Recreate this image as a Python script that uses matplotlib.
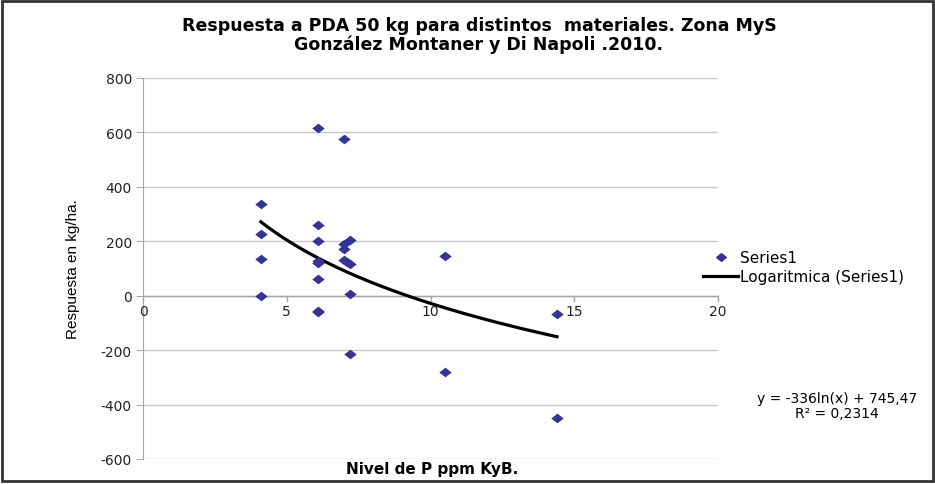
import numpy as np
import matplotlib.pyplot as plt
from matplotlib.lines import Line2D

plt.rcParams['font.family'] = ['DejaVu Sans']
plt.rcParams['axes.unicode_minus'] = False

# data
p_ppm = [4.1, 4.1, 4.1, 4.1,
         6.1, 6.1, 6.1, 6.1, 6.1, 6.1, 6.1, 6.1,
         7.0, 7.0, 7.0, 7.0, 7.1,
         7.2, 7.2, 7.2, 7.2,
         10.5, 10.5,
         14.4, 14.4]
respuesta = [338, 227, 136, 0,
             616, 259, 200, 126, 121, 60, -55, -60,
             576, 191, 172, 131, 125,
             205, 117, 6, -213,
             147, -281,
             -66, -451]

# log trend (as reported on the chart)
coef_a = -336
coef_b = 745.47
r2 = 0.2314

# excel-like flat diamond
diamond = [(-1, 0), (0, 0.78), (1, 0), (0, -0.78), (-1, 0)]
navy = '#333399'

fig = plt.figure(figsize=(9.35, 4.85), dpi=100)
ax = fig.add_axes([143 / 935, 1 - 460 / 485, (718 - 143) / 935, (460 - 79) / 485])

grey = '#a6a6a6'
ax.set_xlim(0, 20)
ax.set_ylim(-600, 800)
ax.set_yticks(np.arange(-600, 801, 200))
ax.set_xticks([0, 5, 10, 15, 20])
ax.yaxis.grid(True, color='#c8c8c8', lw=1)
ax.set_axisbelow(True)
for s in ['top', 'right', 'bottom']:
    ax.spines[s].set_visible(False)
ax.spines['left'].set_color(grey)
ax.axhline(0, color=grey, lw=1, zorder=1)
ax.tick_params(axis='y', length=5, color=grey, labelsize=10, labelcolor='#222222', pad=3)
ax.tick_params(axis='x', length=0, labelsize=10, labelcolor='#222222')

# x tick marks and labels sit on the zero line
for xv in [0, 5, 10, 15, 20]:
    ax.plot([xv, xv], [0, -18], color=grey, lw=1, clip_on=False, zorder=1)
    ax.text(xv, -30, str(xv), ha='center', va='top', fontsize=10, color='#222222')
ax.set_xticklabels([])

ax.scatter(p_ppm, respuesta, marker=diamond, s=80, color=navy, zorder=3,
           linewidths=0)

xs = np.linspace(min(p_ppm), max(p_ppm), 200)
ax.plot(xs, coef_a * np.log(xs) + coef_b, color='black', lw=2.3, zorder=2)

ax.set_ylabel('Respuesta en kg/ha.', fontsize=11, family='Liberation Sans')
ax.yaxis.set_label_coords(-0.11, 0.5)
fig.text(432 / 935, 1 - 470 / 485, 'Nivel de P ppm KyB.', ha='center', va='center',
         fontsize=11, fontweight='bold')

fig.text(479 / 935, 1 - 26 / 485, 'Respuesta a PDA 50 kg para distintos  materiales. Zona MyS',
         ha='center', va='center', fontsize=12.5, fontweight='bold')
fig.text(479 / 935, 1 - 45 / 485, 'González Montaner y Di Napoli .2010.',
         ha='center', va='center', fontsize=12.5, fontweight='bold')

handles = [Line2D([], [], marker=diamond, color=navy, ls='none', markersize=7),
           Line2D([], [], color='black', lw=2.3)]
fig.legend(handles, ['Series1', 'Logaritmica (Series1)'],
           loc='upper left', bbox_to_anchor=(697 / 935, 1 - 245 / 485),
           frameon=False, fontsize=11, handlelength=2.3, handletextpad=0.1,
           labelspacing=0.25, borderaxespad=0)

fig.text(837 / 935, 1 - 399 / 485, f'y = {coef_a}ln(x) + {coef_b}'.replace('.', ','),
         ha='center', va='center', fontsize=10)
fig.text(837 / 935, 1 - 414 / 485, f'R² = {r2}'.replace('.', ','),
         ha='center', va='center', fontsize=10)

# outer frame
fig.patches.append(plt.Rectangle((0.002, 0.006), 0.996, 0.99, transform=fig.transFigure,
                                 fill=False, edgecolor='#333333', lw=2))

fig.savefig('out.png', dpi=100)
